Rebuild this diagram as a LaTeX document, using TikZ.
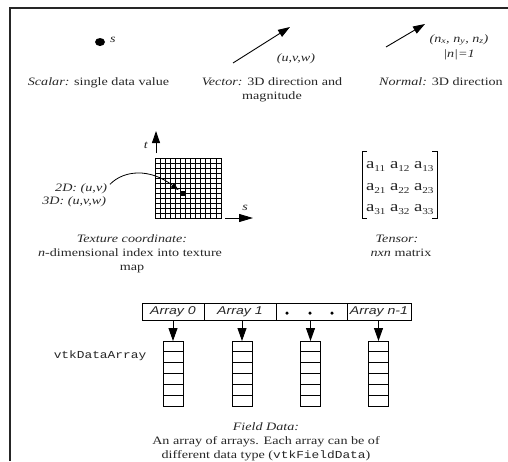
\documentclass[tikz,border=0pt]{standalone}
\usepackage{fontspec}
\setmainfont{Liberation Serif}[FakeStretch=1.25]
\setsansfont{Liberation Sans}[FakeStretch=1.25]
\setmonofont{Liberation Mono}[FakeStretch=1.2]
\usetikzlibrary{arrows.meta,shapes.geometric}
\newcommand{\matent}[1]{{\fontsize{15}{15}\selectfont a}\raisebox{-3pt}{\fontsize{9}{9}\selectfont #1}}
\newcommand{\code}[1]{{\fontsize{10.7}{14}\selectfont\ttfamily #1}}
\begin{document}
\begin{tikzpicture}[x=1pt,y=-1pt,
  every node/.style={font=\fontsize{11.3}{14}\selectfont, inner sep=0pt, outer sep=0pt, text=black!85},
  txt/.style={anchor=base},
  arr/.style={line width=0.9pt, -{Triangle[length=12pt,width=8pt]}},
  downarr/.style={line width=0.9pt, -{Triangle[length=13pt,width=9pt]}},
  cell/.style={draw, line width=1pt, minimum height=17pt, font=\fontsize{11.3}{14}\sffamily\itshape},
  column/.style={draw, line width=1pt, minimum width=20pt, minimum height=65pt},
  brk/.style={line width=0.9pt}]
\useasboundingbox (0,0) rectangle (508,461);
% frame
\draw[line width=2pt, black!85] (9.5,461) -- (9.5,8) -- (508,8);

% scalar
\node[ellipse, fill=black, minimum width=10pt, minimum height=8pt] (dot) at (100,42) {};
\node[anchor=west] (slbl) at (110,40) {\textit{s}};
\node[txt] (scalar) at (98.5,85) {\textit{Scalar:} single data value};

% vector
\coordinate (v0) at (233,63);
\coordinate (v1) at (290,27);
\draw[arr] (v0) -- (v1);
\node[txt] (vlab) at (296,61) {\textit{(u,v,w)}};
\node[txt] (vec1) at (272,85) {\textit{Vector:} 3D direction and};
\node[txt] (vec2) at (272,99) {magnitude};

% normal
\coordinate (n0) at (386,47);
\coordinate (n1) at (425,24);
\draw[arr] (n0) -- (n1);
\node[txt] (nlab1) at (459,42) {\textit{(n\textsubscript{x}, n\textsubscript{y}, n\textsubscript{z})}};
\node[txt] (nlab2) at (459,57) {\textit{|n|=1}};
\node[txt] (norm) at (441,85) {\textit{Normal:} 3D direction};

% texture
\node[draw, line width=0.8pt, minimum width=66pt, minimum height=60pt] (grid) at (188,188) {};
\foreach \i in {1,...,12}{\draw[line width=0.7pt] (grid.north west) ++(\i*66/13,0) -- ++(0,60);}
\foreach \j in {1,...,11}{\draw[line width=0.7pt] (grid.north west) ++(0,\j*5) -- ++(66,0);}
\node[fill=black, minimum size=5.5pt] (pt) at (183,193.5) {};
\coordinate (t0) at (156,153);
\coordinate (t1) at (156,131);
\draw[arr] (t0) -- (t1);
\node (tl) at (146,145) {\textit{t}};
\coordinate (s0) at (225,218);
\coordinate (s1) at (253,218);
\draw[arr, -{Triangle[length=14pt,width=8pt]}] (s0) -- (s1);
\node (sl) at (245,208) {\textit{s}};
\node[anchor=base east] (lbl2) at (107,191) {\textit{2D: (u,v)}};
\node[anchor=base east] (lbl3) at (106,204) {\textit{3D: (u,v,w)}};
\draw[line width=0.8pt, -{Triangle[length=8pt,width=5pt]}, shorten >=2pt]
  ([shift={(3,-4)}]lbl2.east) .. controls (124,170) and (150,168) .. (pt);
\node[txt] (tex1) at (132,242) {\textit{Texture coordinate:}};
\node[txt] (tex2) at (130,256) {\textit{n}-dimensional index into texture};
\node[txt] (tex3) at (132,270) {map};

% tensor
\draw[brk] (367,151) -- (362,151) -- (362,218) -- (367,218);
\draw[brk] (432,151) -- (437,151) -- (437,218) -- (432,218);
\node[anchor=base west] (a11) at (366,168) {\matent{11}};
\node[anchor=base west] (a12) at (390,168) {\matent{12}};
\node[anchor=base west] (a13) at (414,168) {\matent{13}};
\node[anchor=base west] (a21) at (366,190) {\matent{21}};
\node[anchor=base west] (a22) at (390,190) {\matent{22}};
\node[anchor=base west] (a23) at (414,190) {\matent{23}};
\node[anchor=base west] (a31) at (366,211) {\matent{31}};
\node[anchor=base west] (a32) at (390,211) {\matent{32}};
\node[anchor=base west] (a33) at (414,211) {\matent{33}};
\node[txt] (ten1) at (397,242) {\textit{Tensor:}};
\node[txt] (ten2) at (401,256) {\textit{nxn} matrix};

% field data
\node[cell, minimum width=62pt] (c0) at (173,311.5) {Array 0};
\node[cell, minimum width=72pt] (c1) at (240,311.5) {Array 1};
\node[cell, minimum width=71pt] (c2) at (311.5,311.5) {};
\node[cell, minimum width=64pt] (c3) at (379,311.5) {Array n-1};
\node[circle, fill=black, minimum size=3.5pt] (d1) at (287,313) {};
\node[circle, fill=black, minimum size=3.5pt] (d2) at (310,313) {};
\node[circle, fill=black, minimum size=3.5pt] (d3) at (332,313) {};
\foreach \n/\x in {0/173,1/242,2/310.5,3/378.5}{
  \node[column] (col\n) at (\x,373.5) {};
  \foreach \k in {1,...,5}{\draw[line width=0.8pt] (col\n.north west) ++(0,\k*65/6) -- ++(20,0);}
  \draw[downarr] (col\n.north |- c\n.south) -- (col\n.north);
}
\node[txt] (vda) at (100,358) {\code{vtkDataArray}};
\node[txt] (fd1) at (266,430) {\textit{Field Data:}};
\node[txt] (fd2) at (266,444) {An array of arrays. Each array can be of};
\node[txt] (fd3) at (266,458) {different data type (\code{vtkFieldData})};
\end{tikzpicture}
\end{document}
